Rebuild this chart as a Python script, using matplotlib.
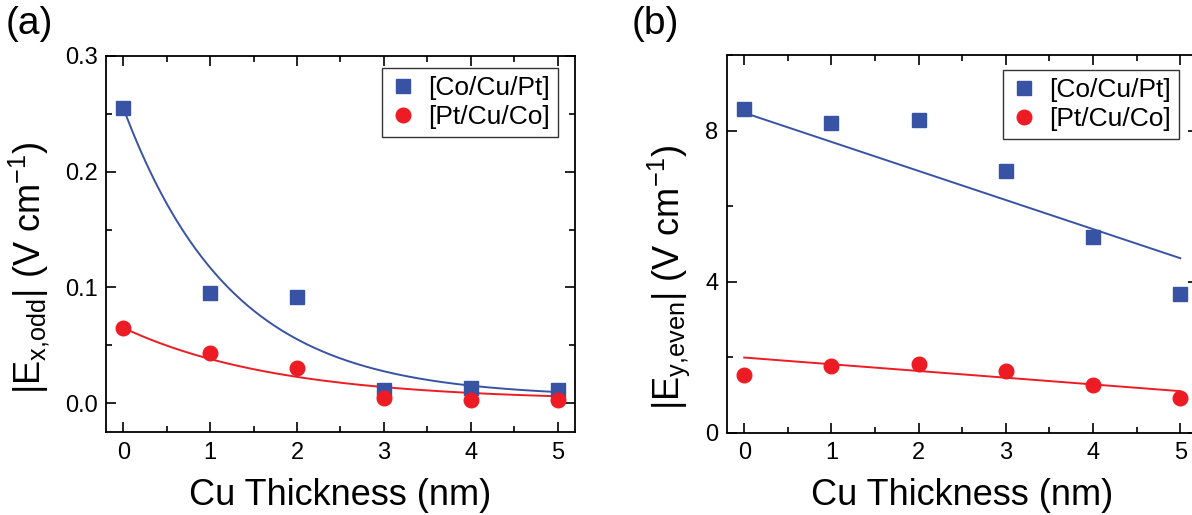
import numpy as np
import matplotlib
matplotlib.use("Agg")
import matplotlib.pyplot as plt
from matplotlib.ticker import MultipleLocator, FormatStrFormatter

plt.rcParams['font.family'] = ['Liberation Sans', 'DejaVu Sans']
plt.rcParams['mathtext.fontset'] = 'custom'
plt.rcParams['mathtext.rm'] = 'Liberation Sans'
plt.rcParams['mathtext.it'] = 'Liberation Sans:italic'

# data
thickness = [0, 1, 2, 3, 4, 5]
series_names = ['[Co/Cu/Pt]', '[Pt/Cu/Co]']

ex_odd_copt = [0.255, 0.095, 0.092, 0.0115, 0.013, 0.011]
ex_odd_ptco = [0.065, 0.0437, 0.030, 0.0046, 0.003, 0.0023]
# exponential decay fits: y0, A, decay length (nm)
fit_a_copt = (0.005, 0.25, 1.245)
fit_a_ptco = (0.002, 0.063, 1.79)

ey_even_copt = [8.58, 8.19, 8.28, 6.94, 5.18, 3.68]
ey_even_ptco = [1.52, 1.77, 1.82, 1.63, 1.27, 0.93]
# linear fits, value at 0 nm and 5 nm
fit_b_x = [0, 5]
fit_b_copt = [8.47, 4.62]
fit_b_ptco = [1.99, 1.10]

BLUE = '#3953a4'
RED = '#ed1c24'


def style_axes(ax):
    for s in ax.spines.values():
        s.set_linewidth(1.3)
    ax.tick_params(which='both', direction='in', top=True, right=True,
                   labelsize=17, width=1.2)
    ax.tick_params(which='major', length=7)
    ax.tick_params(which='minor', length=4)
    ax.tick_params(axis='x', pad=7)
    ax.tick_params(axis='y', pad=6)
    ax.set_xlim(-0.2, 5.2)
    ax.xaxis.set_major_locator(MultipleLocator(1))
    ax.xaxis.set_minor_locator(MultipleLocator(0.5))
    ax.set_xlabel('Cu Thickness (nm)', fontsize=26, labelpad=10)


def add_legend(ax, anchor):
    leg = ax.legend(loc='upper right', bbox_to_anchor=anchor, borderaxespad=0,
                    fontsize=19, frameon=True, fancybox=False, framealpha=1,
                    edgecolor='#333333', handletextpad=0.45, labelspacing=0.2,
                    borderpad=0.3, handlelength=1.0)
    leg.get_frame().set_linewidth(1.0)


fig = plt.figure(figsize=(11.92, 5.15), dpi=100)

# (a)
ax1 = fig.add_axes([0.0889, 0.1612, 0.3935, 0.7301])
xf = np.linspace(0, 5, 200)
y0, A, t = fit_a_copt
ax1.plot(xf, y0 + A * np.exp(-xf / t), color=BLUE, lw=1.4)
y0, A, t = fit_a_ptco
ax1.plot(xf, y0 + A * np.exp(-xf / t), color=RED, lw=1.4)
ax1.plot(thickness, ex_odd_copt, 's', color=BLUE, ms=9.5, mec=BLUE,
         label=series_names[0])
ax1.plot(thickness, ex_odd_ptco, 'o', color=RED, ms=10.5, mec=RED,
         label=series_names[1])
style_axes(ax1)
ax1.set_ylim(-0.025, 0.3)
ax1.yaxis.set_major_locator(MultipleLocator(0.1))
ax1.yaxis.set_minor_locator(MultipleLocator(0.05))
ax1.yaxis.set_major_formatter(FormatStrFormatter('%.1f'))
ax1.set_ylabel(r'$|\mathrm{E}_{\mathrm{x{,}odd}}|$ (V cm$^{\mathrm{-1}}$)',
               fontsize=26)
ax1.yaxis.set_label_coords(-0.115, 0.436)
add_legend(ax1, (0.964, 0.968))

# (b)
ax2 = fig.add_axes([0.6097, 0.1598, 0.3951, 0.7334])
ax2.plot(fit_b_x, fit_b_copt, color=BLUE, lw=1.4)
ax2.plot(fit_b_x, fit_b_ptco, color=RED, lw=1.4)
ax2.plot(thickness, ey_even_copt, 's', color=BLUE, ms=9.5, mec=BLUE,
         label=series_names[0])
ax2.plot(thickness, ey_even_ptco, 'o', color=RED, ms=10.5, mec=RED,
         label=series_names[1])
style_axes(ax2)
ax2.set_ylim(0, 10)
ax2.yaxis.set_major_locator(MultipleLocator(4))
ax2.yaxis.set_minor_locator(MultipleLocator(2))
ax2.set_ylabel(r'$|\mathrm{E}_{\mathrm{y{,}even}}|$ (V cm$^{\mathrm{-1}}$)',
               fontsize=26)
ax2.yaxis.set_label_coords(-0.074, 0.41)
add_legend(ax2, (0.960, 0.960))

fig.text(0.005, 0.988, '(a)', fontsize=28, va='top', ha='left')
fig.text(0.530, 0.988, '(b)', fontsize=28, va='top', ha='left')

fig.savefig('out.png', dpi=100)
